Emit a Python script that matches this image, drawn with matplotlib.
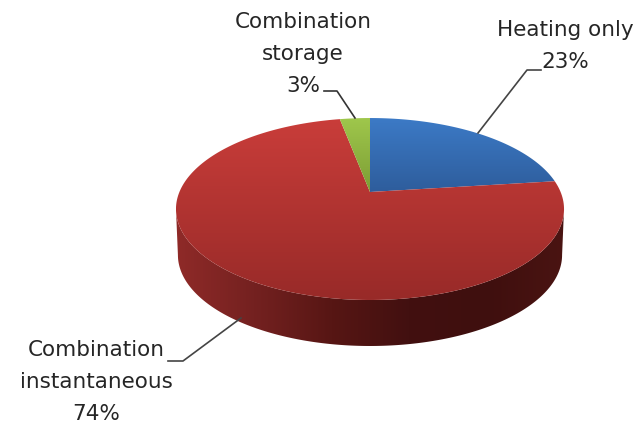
import numpy as np
import matplotlib
matplotlib.use('Agg')
import matplotlib.pyplot as plt
from matplotlib.colors import LinearSegmentedColormap
from matplotlib.patches import Polygon

# clockwise from 12 o'clock
labels = ['Heating only', 'Combination\ninstantaneous', 'Combination\nstorage']
values = [23, 74, 3]
top_colors = [('#3c7ac6', '#2e5d9c'), ('#c93d3a', '#982a28'), ('#9fc74c', '#7c9d34')]
side_stops = ['#8f2a28', '#742120', '#571614', '#421010', '#3f0f0e', '#4a1412']

plt.rcParams['font.family'] = ['DejaVu Sans']

fig = plt.figure(figsize=(6.42, 4.24), dpi=100)
ax = fig.add_axes([0, 0, 1, 1])
ax.set_xlim(0, 642)
ax.set_ylim(424, 0)
ax.axis('off')

cx, cy = 370, 192
a, b, k = 190.6, 87.8, 0.187
depth = 46


# tilted disc, the far edge is smaller than the near edge
def project(t, r=1.0):
    u = r * np.sin(t)
    v = r * np.cos(t)
    w = 1 + k * v
    return cx + a * u / w, cy - b * v / w


def gradient(poly, c1, c2, horizontal=False, stops=None):
    xs, ys = poly[:, 0], poly[:, 1]
    cmap = LinearSegmentedColormap.from_list('g', stops if stops else [c1, c2])
    ramp = np.linspace(0, 1, 256)
    ramp = ramp.reshape(1, -1) if horizontal else ramp.reshape(-1, 1)
    im = ax.imshow(ramp, cmap=cmap, aspect='auto', interpolation='bilinear',
                   extent=[xs.min(), xs.max(), ys.max(), ys.min()], zorder=2)
    patch = Polygon(poly, closed=True, transform=ax.transData, fc='none', ec='none')
    ax.add_patch(patch)
    im.set_clip_path(patch)


# side wall, front half of the rim, from widest point to widest point
t0 = np.arccos(-k)
tt = np.linspace(t0, 2 * np.pi - t0, 300)
xr, yr = project(tt)
rim = np.column_stack([xr, yr])
bx = cx + (xr - cx) * 0.99
low = np.column_stack([bx, yr + depth])
wall = np.vstack([rim, low[::-1]])
gradient(wall, None, None, horizontal=True, stops=side_stops)

# top surface slices
fracs = np.cumsum([0] + values) / sum(values)
for i in range(len(values)):
    t = np.linspace(fracs[i], fracs[i + 1], 200) * 2 * np.pi
    xs, ys = project(t)
    poly = np.vstack([[cx, cy], np.column_stack([xs, ys])])
    gradient(poly, top_colors[i][0], top_colors[i][1])
ax.set_xlim(0, 642)
ax.set_ylim(424, 0)

# leader lines
ax.plot([478, 527, 541], [133, 70, 70], color='#444444', lw=1.2, zorder=3)
ax.plot([355, 337, 324], [118, 91, 91], color='#333333', lw=1.2, zorder=3)
ax.plot([241, 183, 168], [318, 361, 361], color='#444444', lw=1.2, zorder=3)

# data labels
fs = 15.5
tc = '#262626'
ax.text(565, 46, labels[0] + '\n' + str(values[0]) + '%', ha='center', va='center',
        fontsize=fs, color=tc, linespacing=1.75, zorder=4)
ax.text(96, 382, labels[1] + '\n' + str(values[1]) + '%', ha='center', va='center',
        fontsize=fs, color=tc, linespacing=1.75, zorder=4)
ax.text(303, 54, labels[2] + '\n' + str(values[2]) + '%', ha='center', va='center',
        fontsize=fs, color=tc, linespacing=1.75, zorder=4)

fig.savefig('out.png', dpi=100, facecolor='white')
